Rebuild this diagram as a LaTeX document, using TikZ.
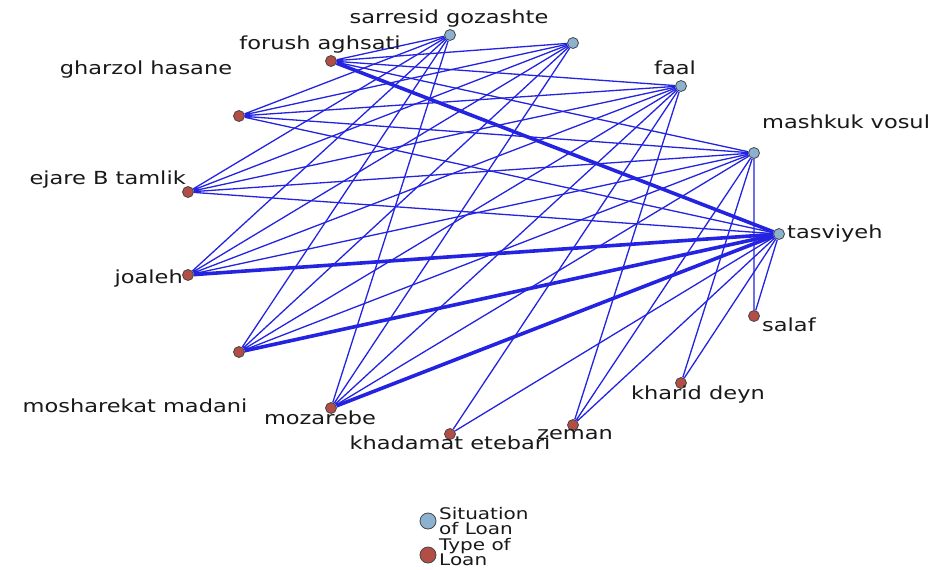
\documentclass[tikz,border=0pt]{standalone}
\usepackage{fontspec}
\setmainfont{DejaVu Sans}[FakeStretch=1.25]
\definecolor{edgeblue}{RGB}{35, 35, 225}
\definecolor{situationblue}{RGB}{140, 178, 208}
\definecolor{typered}{RGB}{178, 78, 70}
\definecolor{rimgray}{RGB}{70, 70, 70}
\usepackage{tikz}
\usetikzlibrary{
    positioning,
    calc
}
\tikzstyle{situation} = [
    circle,
    draw=rimgray,
    fill=situationblue,
    line width=0.8pt,
    minimum size=11pt,
    inner sep=0pt
]
\tikzstyle{loantype} = [
    circle,
    draw=rimgray,
    fill=typered,
    line width=0.8pt,
    minimum size=11pt,
    inner sep=0pt
]
\tikzstyle{edge} = [
    edgeblue,
    line width=1.3pt
]
\tikzstyle{heavy} = [
    edgeblue,
    line width=3.6pt
]
\tikzstyle{lbl} = [
    font=\fontsize{18}{18}\selectfont,
    text=black!90,
    inner sep=0pt
]

\begin{document}
\begin{tikzpicture}[x=1pt, y=-1pt]
        \useasboundingbox (0,0) rectangle (929,570);
        \fill[white] (0,0) rectangle (929,570);

        % Situation of loan
        \node[situation] (sarresid) at (450,35) {};
        \node[situation] (nameless) at (573,43) {};
        \node[situation] (faal) at (681,86) {};
        \node[situation] (mashkuk) at (754,153) {};
        \node[situation] (tasviyeh) at (779,234) {};

        % Type of loan
        \node[loantype] (forush) at (331,61) {};
        \node[loantype] (gharzol) at (239,116) {};
        \node[loantype] (ejare) at (188,192) {};
        \node[loantype] (joaleh) at (188,275) {};
        \node[loantype] (mosharekat) at (239,352) {};
        \node[loantype] (mozarebe) at (331,408) {};
        \node[loantype] (khadamat) at (450,434) {};
        \node[loantype] (zeman) at (573,425) {};
        \node[loantype] (kharid) at (681,383) {};
        \node[loantype] (salaf) at (754,316) {};

        % Edges
        \draw[edge] (forush) -- (sarresid) (forush) -- (nameless) (forush) -- (faal) (forush) -- (mashkuk);
        \draw[heavy] (forush) -- (tasviyeh);
        \draw[edge] (gharzol) -- (sarresid) (gharzol) -- (nameless) (gharzol) -- (faal) (gharzol) -- (mashkuk) (gharzol) -- (tasviyeh);
        \draw[edge] (ejare) -- (sarresid) (ejare) -- (nameless) (ejare) -- (faal) (ejare) -- (mashkuk) (ejare) -- (tasviyeh);
        \draw[edge] (joaleh) -- (sarresid) (joaleh) -- (nameless) (joaleh) -- (faal) (joaleh) -- (mashkuk);
        \draw[heavy] (joaleh) -- (tasviyeh);
        \draw[edge] (mosharekat) -- (sarresid) (mosharekat) -- (nameless) (mosharekat) -- (faal) (mosharekat) -- (mashkuk);
        \draw[heavy] (mosharekat) -- (tasviyeh);
        \draw[edge] (mozarebe) -- (sarresid) (mozarebe) -- (nameless) (mozarebe) -- (faal) (mozarebe) -- (mashkuk);
        \draw[heavy] (mozarebe) -- (tasviyeh);
        \draw[edge] (khadamat) -- (faal) (khadamat) -- (tasviyeh);
        \draw[edge] (zeman) -- (faal) (zeman) -- (mashkuk) (zeman) -- (tasviyeh);
        \draw[edge] (kharid) -- (mashkuk) (kharid) -- (tasviyeh);
        \draw[edge] (salaf) -- (mashkuk) (salaf) -- (tasviyeh);

        % Labels
        \node[lbl, anchor=mid] (sarresid-lbl) at (449,21) {sarresid gozashte};
        \node[lbl, anchor=mid] (faal-lbl) at (675,72) {faal};
        \node[lbl, anchor=mid west] (mashkuk-lbl) at (762,126) {mashkuk vosul};
        \node[lbl, anchor=mid west] (tasviyeh-lbl) at (787,236) {tasviyeh};
        \node[lbl, anchor=mid] (forush-lbl) at (320,47) {forush aghsati};
        \node[lbl, anchor=mid] (gharzol-lbl) at (146,72) {gharzol hasane};
        \node[lbl, anchor=mid east] (ejare-lbl) at (186,182) {ejare B tamlik};
        \node[lbl, anchor=mid east] (joaleh-lbl) at (183,281) {joaleh};
        \node[lbl, anchor=mid] (mosharekat-lbl) at (135,410) {mosharekat madani};
        \node[lbl, anchor=mid] (mozarebe-lbl) at (320,422) {mozarebe};
        \node[lbl, anchor=mid] (khadamat-lbl) at (450,447) {khadamat etebari};
        \node[lbl, anchor=mid] (zeman-lbl) at (575,437) {zeman};
        \node[lbl, anchor=mid] (kharid-lbl) at (698,397) {kharid deyn};
        \node[lbl, anchor=mid west] (salaf-lbl) at (762,329) {salaf};

        % Legend
        \node[situation, minimum size=16pt] (key-situation) at (428,521) {};
        \node[loantype, minimum size=16pt] (key-type) at (428,555) {};
        \node[lbl, anchor=west, align=left, font=\fontsize{16}{15}\selectfont] (key-situation-lbl) at (439,521) {Situation\\of Loan};
        \node[lbl, anchor=west, align=left, font=\fontsize{16}{15}\selectfont] (key-type-lbl) at (439,552) {Type of\\Loan};
    \end{tikzpicture}
\end{document}
